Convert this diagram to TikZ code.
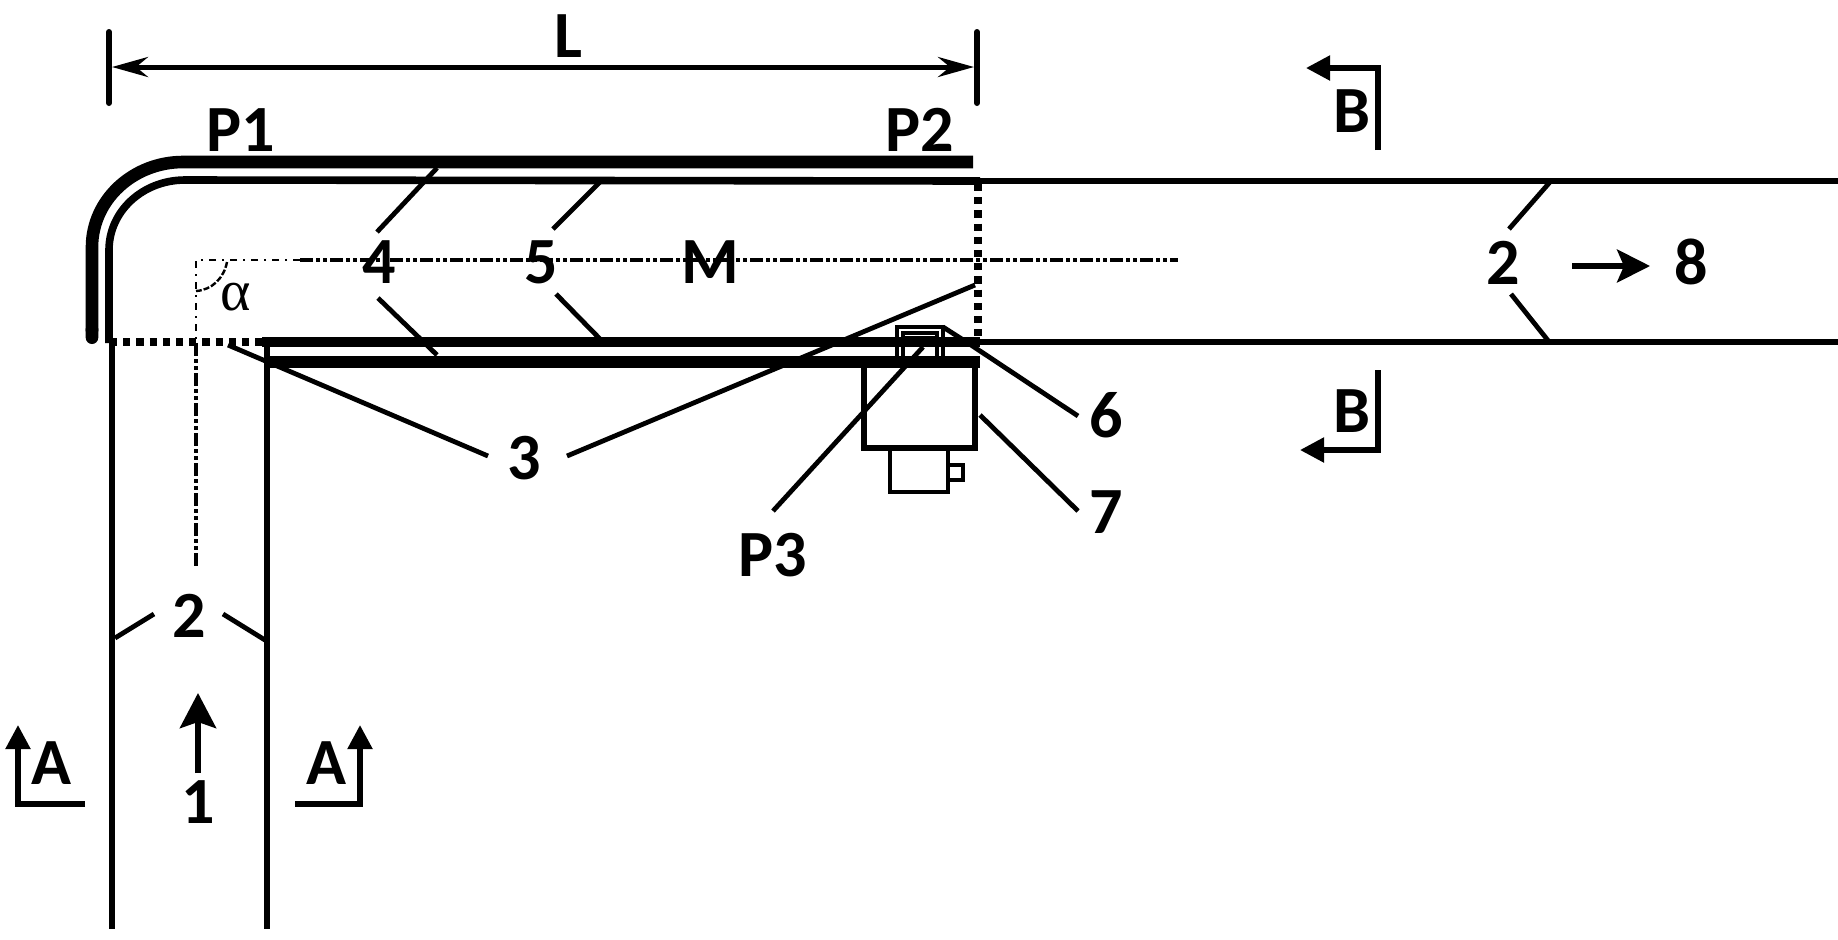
\documentclass[tikz,border=0pt]{standalone}
\usepackage{fontspec}
\setmainfont{Carlito}
\newfontfamily\alphafont{Liberation Serif}
\usetikzlibrary{arrows.meta}
\tikzset{
  lbl/.style={font=\fontsize{33}{33}\selectfont\bfseries, inner sep=0pt, anchor=base, text=black},
  lead/.style={line width=2.4pt},
  wall/.style={line width=2.7pt},
  secline/.style={line width=2.6pt, miter limit=10},
  dots/.style={line width=3.8pt, dash pattern=on 3.6pt off 3pt},
  axisthin/.style={line width=1pt, dash pattern=on 3.5pt off 3pt on 1pt off 3pt},
  axisthick/.style={line width=2pt, dash pattern=on 6.5pt off 1.5pt on 2pt off 1.5pt on 2pt off 1.5pt},
  secarrow/.style={-{Triangle[length=12pt,width=12pt]}},
  dimtip/.style={{Stealth[length=18pt,width=10pt,inset=6pt]}-{Stealth[length=18pt,width=10pt,inset=6pt]}},
}
\begin{document}
\begin{tikzpicture}[x=0.5pt,y=-0.5pt]
\useasboundingbox (0,0) rectangle (1838,939);
% labels
\node[lbl] (L) at (568,57) {L};
\node[lbl] (P1) at (241,151) {P1};
\node[lbl] (P2) at (920,151) {P2};
\node[lbl] (n4) at (379,283) {4};
\node[lbl] (n5) at (541,283) {5};
\node[lbl] (M) at (710,283) {M};
\node[lbl] (n2r) at (1503,284) {2};
\node[lbl] (n8) at (1691,284) {8};
\node[lbl] (n3) at (524,479) {3};
\node[lbl] (n6) at (1106,437) {6};
\node[lbl] (n7) at (1106,533) {7};
\node[lbl] (P3) at (773,576) {P3};
\node[lbl] (n2l) at (189,637) {2};
\node[lbl] (n1) at (198,823) {1};
\node[lbl] (Aa) at (51,784) {A};
\node[lbl] (Ab) at (326,784) {A};
\node[lbl] (Ba) at (1352,132) {B};
\node[lbl] (Bb) at (1352,432) {B};
\node[inner sep=0pt, anchor=base, text=black, font=\alphafont\fontsize{29}{29}\selectfont] (alpha) at (236,310) {α};
% centre lines
\draw[axisthin] (300,260) -- (196,260) -- (196,343);
\draw[axisthick] (300,260) -- (1178,260);
\draw[axisthick] (196,343) -- (196,567);
\draw[line width=1.2pt, dash pattern=on 3pt off 1pt] (227,262) .. controls (224,278) and (212,290) .. (196,291);
% strip (outer)
\draw[line width=6.3pt, {Round Cap[]}-] (92,344) -- (92,247) .. controls (92,200) and (133,162) .. (183,162) -- (973,162);
% inner wall
\draw[line width=3.8pt] (109,343) -- (109,250) .. controls (109,211) and (143,180) .. (185,180) -- (980,181);
\draw[wall] (978,181) -- (1838,181);
% lower walls
\draw[line width=5pt] (262,342) -- (980,342);
\draw[wall] (978,342) -- (1838,342);
\draw[line width=6.3pt] (265,362) -- (980,362);
\draw[wall] (112,343) -- (112,929);
\draw[wall] (267,343) -- (267,929);
% dotted
\draw[dots] (110,342) -- (262,342);
\draw[dots] (978,184) -- (978,342);
% sensor
\draw[line width=2pt] (897,362) -- (897,327) -- (943,327) -- (943,362);
\draw[line width=1.6pt] (903,362) -- (903,333) -- (937,333) -- (937,362);
\fill (903,336) rectangle (937,342);
\draw[line width=2.6pt] (864,362) rectangle (975,448);
\draw[line width=2.4pt] (890,448) rectangle (948,492);
\draw[line width=2.2pt] (948,465) rectangle (963,480);
% leader ends
\coordinate (l4a) at (377,232); \coordinate (l4b) at (437,168);
\coordinate (l4c) at (378,298); \coordinate (l4d) at (437,355);
\coordinate (l5a) at (553,229); \coordinate (l5b) at (600,182);
\coordinate (l5c) at (556,294); \coordinate (l5d) at (602,341);
\coordinate (l2a) at (1509,229); \coordinate (l2b) at (1550,182);
\coordinate (l2c) at (1511,294); \coordinate (l2d) at (1550,343);
\coordinate (l3a) at (488,456); \coordinate (l3b) at (228,345);
\coordinate (l3c) at (567,456); \coordinate (l3d) at (975,285);
\coordinate (l6a) at (1078,416); \coordinate (l6b) at (968,343); \coordinate (l6c) at (943,327);
\coordinate (l7a) at (1078,511); \coordinate (l7b) at (980,415);
\coordinate (lP3a) at (773,511); \coordinate (lP3b) at (923,347);
\coordinate (l2la) at (154,614); \coordinate (l2lb) at (115,638);
\coordinate (l2ra) at (223,614); \coordinate (l2rb) at (265,640);
\draw[lead] (l4a) -- (l4b);
\draw[lead] (l4c) -- (l4d);
\draw[lead] (l5a) -- (l5b);
\draw[lead] (l5c) -- (l5d);
\draw[lead] (l2a) -- (l2b);
\draw[lead] (l2c) -- (l2d);
\draw[lead] (l3a) -- (l3b);
\draw[lead] (l3c) -- (l3d);
\draw[lead] (l6a) -- (l6b) -- (l6c);
\draw[lead] (l7a) -- (l7b);
\draw[lead] (lP3a) -- (lP3b);
\draw[lead] (l2la) -- (l2lb);
\draw[lead] (l2ra) -- (l2rb);
% dimension
\coordinate (dl) at (112,67); \coordinate (dr) at (974,67);
\draw[line width=3pt, line cap=round] (109,32) -- (109,103);
\draw[line width=3pt, line cap=round] (977,32) -- (977,103);
\draw[line width=2.5pt, dimtip] (dl) -- (dr);
% flow arrows
\coordinate (f1a) at (198,773); \coordinate (f1b) at (198,693);
\coordinate (f8a) at (1572,266); \coordinate (f8b) at (1650,266);
\draw[line width=3pt, -{Stealth[length=17.5pt,width=18pt,inset=3pt]}] (f1a) -- (f1b);
\draw[line width=2.6pt, -{Stealth[length=16.5pt,width=16.5pt,inset=3.5pt]}] (f8a) -- (f8b);
% section marks
\draw[secline, secarrow] (85,804) -- (18,804) -- (18,725);
\draw[secline, secarrow] (295,804) -- (360,804) -- (360,725);
\draw[secline, secarrow] (1378,150) -- (1378,68) -- (1306,68);
\draw[secline, secarrow] (1378,370) -- (1378,450) -- (1300,450);
\end{tikzpicture}
\end{document}
